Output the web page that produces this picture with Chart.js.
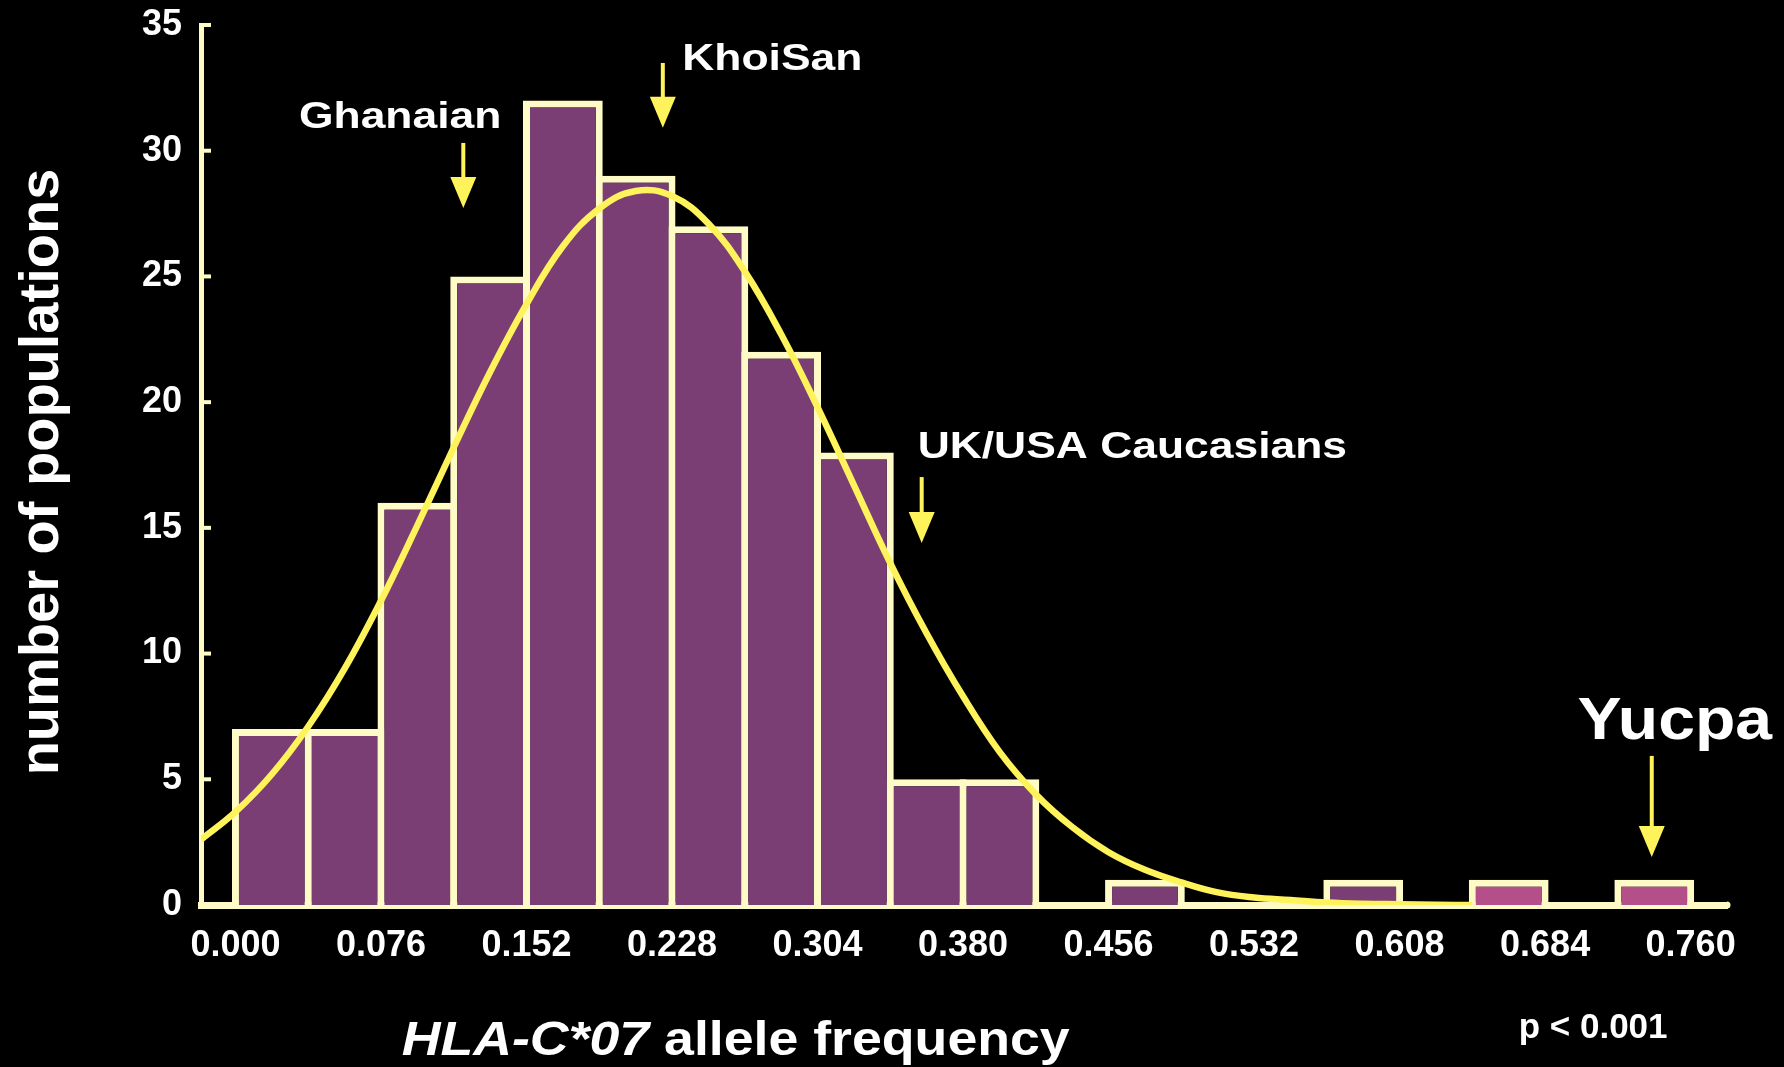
<!DOCTYPE html>
<html lang="en">
<head>
<meta charset="UTF-8">
<title>HLA-C*07 allele frequency</title>
<script src="https://cdn.jsdelivr.net/npm/chart.js@4"></script>
<style>
  html, body { margin: 0; padding: 0; background: #000; }
  .wrap { position: relative; width: 1784px; height: 1067px; }
</style>
</head>
<body>
<div class="wrap"><canvas id="chart"></canvas></div>
<script>
// histogram bins (width 0.038) and number of populations per bin
const binCenters = [0.019, 0.057, 0.095, 0.133, 0.171, 0.209, 0.247, 0.285, 0.323, 0.361,
                    0.399, 0.437, 0.475, 0.513, 0.551, 0.589, 0.627, 0.665, 0.703, 0.741];
const binCounts  = [7, 7, 16, 25, 32, 29, 27, 22, 18, 5,
                    5, 0, 1, 0, 0, 1, 0, 1, 0, 1];
// bins holding the Yucpa-like outliers (drawn pink)
const binHighlight = [0, 0, 0, 0, 0, 0, 0, 0, 0, 0,
                      0, 0, 0, 0, 0, 0, 0, 1, 0, 1];

// fitted normal curve
const curveX = [-0.018, 0.000, 0.019, 0.038, 0.057, 0.076, 0.095, 0.114, 0.133, 0.152,
                0.171, 0.190, 0.209, 0.228, 0.247, 0.266, 0.285, 0.304, 0.323, 0.342,
                0.361, 0.380, 0.399, 0.418, 0.437, 0.456, 0.475, 0.494, 0.513, 0.532,
                0.551, 0.570, 0.589, 0.608, 0.627, 0.646];
const curveY = [2.6, 3.7, 5.2, 7.1, 9.4, 12.1, 15.1, 18.2, 21.2, 23.9,
                26.2, 27.7, 28.4, 28.2, 27.1, 25.2, 22.7, 19.8, 16.7, 13.6,
                10.8, 8.3, 6.1, 4.4, 3.1, 2.1, 1.4, 0.9, 0.5, 0.3,
                0.2, 0.1, 0.05, 0.03, 0.01, 0];

const xTickValues = [0.000, 0.076, 0.152, 0.228, 0.304, 0.380, 0.456, 0.532, 0.608, 0.684, 0.760];
const xTickLabels = ['0.000', '0.076', '0.152', '0.228', '0.304', '0.380', '0.456', '0.532', '0.608', '0.684', '0.760'];
const yTickValues = [0, 5, 10, 15, 20, 25, 30, 35];

// population labels with arrows (data units)
const noteLabels = ['Ghanaian', 'KhoiSan', 'UK/USA Caucasians', 'Yucpa'];
const noteArrowX = [0.119, 0.2232, 0.3584, 0.7397];
const noteArrowTop = [30.31, 33.49, 17.02, 5.93];
const noteArrowTip = [27.72, 30.91, 14.40, 1.91];

const CREAM = '#fffbc6';
const PURPLE = '#7a3e75';
const PINK = '#b44f8a';
const YELLOW = '#fff35c';
const FONT = '"Liberation Sans", Arial, Helvetica, sans-serif';

// label placement / look (centre x, baseline y in data units)
const noteText = [
  { x: 0.0860, y: 30.91, size: 37, sx: 1.2 },
  { x: 0.2804, y: 33.21, size: 37, sx: 1.2 },
  { x: 0.4684, y: 17.78, size: 37, sx: 1.2 },
  { x: 0.7517, y: 6.60, size: 59, sx: 1.12 }
];

function stretchText(ctx, str, px, py, font, sx, align) {
  ctx.save();
  ctx.translate(px, py);
  ctx.scale(sx, 1);
  ctx.font = font;
  ctx.textAlign = align;
  ctx.textBaseline = 'alphabetic';
  ctx.fillText(str, 0, 0);
  ctx.restore();
}

const overlay = {
  id: 'overlay',
  afterDraw(chart) {
    const { ctx, chartArea } = chart;
    const xs = chart.scales.x, ys = chart.scales.y;

    // inward tick marks on the y axis
    ctx.save();
    ctx.strokeStyle = CREAM;
    ctx.lineWidth = 4;
    yTickValues.forEach(v => {
      if (v === 0) return;
      const py = ys.getPixelForValue(v);
      ctx.beginPath();
      ctx.moveTo(chartArea.left, py);
      ctx.lineTo(chartArea.left + 10, py);
      ctx.stroke();
    });
    // round end of the x axis line
    ctx.fillStyle = CREAM;
    ctx.beginPath();
    ctx.arc(chartArea.right, chartArea.bottom, 3.5, -Math.PI / 2, Math.PI / 2);
    ctx.fill();
    ctx.restore();

    // arrows
    ctx.save();
    ctx.strokeStyle = YELLOW;
    ctx.fillStyle = YELLOW;
    noteLabels.forEach((_, i) => {
      const px = xs.getPixelForValue(noteArrowX[i]);
      const top = ys.getPixelForValue(noteArrowTop[i]);
      const tip = ys.getPixelForValue(noteArrowTip[i]);
      ctx.lineWidth = 4;
      ctx.beginPath();
      ctx.moveTo(px, top);
      ctx.lineTo(px, tip - 25);
      ctx.stroke();
      ctx.beginPath();
      ctx.moveTo(px - 13, tip - 31);
      ctx.lineTo(px + 13, tip - 31);
      ctx.lineTo(px, tip);
      ctx.closePath();
      ctx.fill();
    });
    ctx.restore();

    // population names
    ctx.save();
    ctx.fillStyle = '#ffffff';
    noteLabels.forEach((label, i) => {
      const t = noteText[i];
      stretchText(ctx, label, xs.getPixelForValue(t.x), ys.getPixelForValue(t.y),
        'bold ' + t.size + 'px ' + FONT, t.sx, 'center');
    });

    // p value
    stretchText(ctx, 'p < 0.001', xs.getPixelForValue(0.6702), ys.getPixelForValue(-5.29),
      'bold 35px ' + FONT, 1, 'left');

    // x axis title: italic gene name + plain text
    const tx = xs.getPixelForValue(0.0868);
    const ty = ys.getPixelForValue(-5.97);
    const sx = 1.118;
    ctx.save();
    ctx.translate(tx, ty);
    ctx.scale(sx, 1);
    ctx.textBaseline = 'alphabetic';
    ctx.textAlign = 'left';
    ctx.font = 'italic bold 48px ' + FONT;
    ctx.fillText('HLA-C*07', 0, 0);
    const w = ctx.measureText('HLA-C*07').width;
    ctx.font = 'bold 48px ' + FONT;
    ctx.fillText(' allele frequency', w, 0);
    ctx.restore();

    // y axis title
    ctx.save();
    ctx.translate(58, ys.getPixelForValue(17.22));
    ctx.rotate(-Math.PI / 2);
    ctx.font = 'bold 56px ' + FONT;
    ctx.textAlign = 'center';
    ctx.textBaseline = 'alphabetic';
    ctx.fillText('number of populations', 0, 0);
    ctx.restore();
    ctx.restore();
  }
};

new Chart(document.getElementById('chart'), {
  type: 'bar',
  data: {
    datasets: [
      {
        type: 'line',
        order: 0,
        data: curveX.map((x, i) => ({ x: x, y: curveY[i] })),
        borderColor: YELLOW,
        borderWidth: 6.5,
        pointRadius: 0,
        tension: 0.4,
        fill: false
      },
      {
        type: 'bar',
        order: 1,
        data: binCenters.map((x, i) => ({ x: x, y: binCounts[i] > 0 ? binCounts[i] : null })),
        backgroundColor: binHighlight.map(h => h ? PINK : PURPLE),
        borderColor: CREAM,
        borderWidth: 7,
        borderSkipped: 'start',
        barPercentage: 1.096,
        categoryPercentage: 1
      }
    ]
  },
  options: {
    responsive: true,
    maintainAspectRatio: false,
    animation: false,
    layout: { padding: { left: 0, top: 25, right: 57, bottom: 0 } },
    plugins: { legend: { display: false }, tooltip: { enabled: false } },
    scales: {
      x: {
        type: 'linear',
        min: -0.018,
        max: 0.779,
        offset: false,
        z: 1,
        grid: { display: false, offset: false },
        border: { display: true, color: CREAM, width: 7 },
        afterBuildTicks: s => { s.ticks = xTickValues.map(v => ({ value: v })); },
        afterFit: s => { s.height = 162; s.paddingLeft = 0; s.paddingRight = 0; },
        ticks: {
          autoSkip: false,
          maxRotation: 0,
          padding: 11,
          color: '#ffffff',
          font: { family: FONT, size: 36, weight: 'bold' },
          callback: (v, i) => xTickLabels[i]
        }
      },
      y: {
        min: 0,
        max: 35,
        grid: { display: false },
        border: { display: true, color: CREAM, width: 5 },
        afterFit: s => { s.width = 201; s.paddingTop = 0; s.paddingBottom = 0; },
        ticks: {
          stepSize: 5,
          padding: 11,
          color: '#ffffff',
          font: { family: FONT, size: 36, weight: 'bold' }
        }
      }
    }
  },
  plugins: [overlay]
});
</script>
</body>
</html>
